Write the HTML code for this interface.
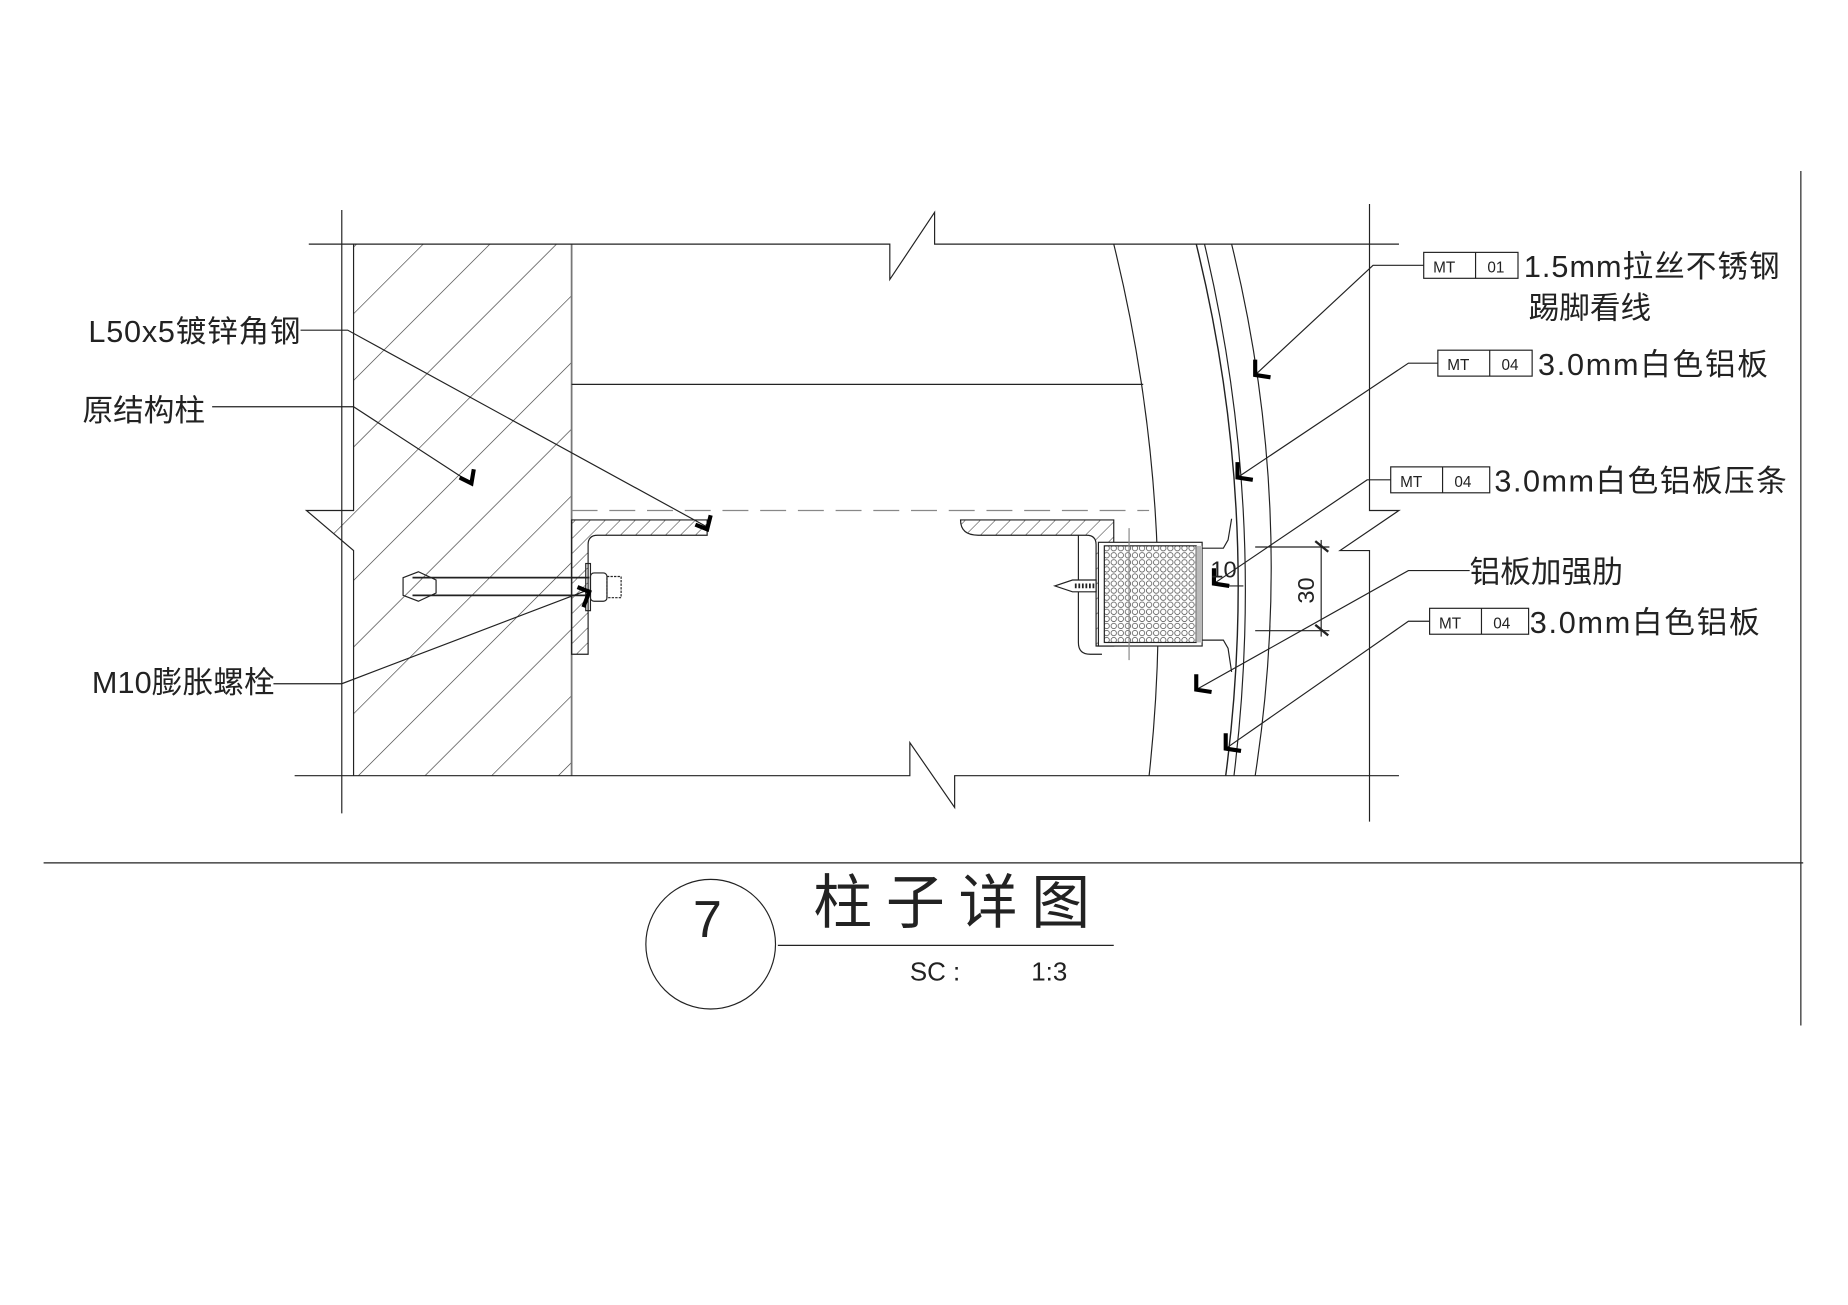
<!DOCTYPE html>
<html><head><meta charset="utf-8"><style>
html,body{margin:0;padding:0;background:#fff;}
svg{display:block}
text{font-family:"Liberation Sans","Noto Sans CJK SC",sans-serif;fill:#222}
</style></head><body>
<svg width="1848" height="1305" viewBox="0 0 1568 1107" xmlns="http://www.w3.org/2000/svg">
<defs>
<pattern id="hat" width="40" height="40" patternUnits="userSpaceOnUse" patternTransform="rotate(-45)">
<line x1="0" y1="0" x2="40" y2="0" stroke="#333" stroke-width="1"/></pattern>
<pattern id="hat2" width="9" height="9" patternUnits="userSpaceOnUse" patternTransform="rotate(-45)">
<line x1="0" y1="0" x2="9" y2="0" stroke="#333" stroke-width="0.8"/></pattern>
<pattern id="hex" width="6" height="6" patternUnits="userSpaceOnUse">
<circle cx="3" cy="3" r="2.3" fill="none" stroke="#444" stroke-width="0.6"/></pattern>
</defs>
<g fill="none" stroke="#222" stroke-width="1">
<polygon points="300,207 485,207 485,658 300,658 300,467 260,433 300,433" fill="url(#hat)" stroke="none"/>
<polyline points="300,207 300,433 260,433 300,467 300,658"/>
<line x1="290" y1="178" x2="290" y2="690"/>
<line x1="485" y1="207" x2="485" y2="658" stroke="#777" stroke-width="1.5"/>
<polyline points="262,207 755,207 755,237 793,180 793,207 1187,207"/>
<polyline points="250,658 772,658 772,630 810,685 810,658 1187,658"/>
<line x1="485" y1="326" x2="970" y2="326"/>
<line x1="485" y1="433" x2="975" y2="433" stroke="#888" stroke-dasharray="22,10"/>
<polyline points="1162,173 1162,433 1187,433 1137,467 1162,467 1162,697"/>
<line x1="1528" y1="145" x2="1528" y2="870"/>
<line x1="37" y1="732" x2="1530" y2="732"/>
<path d="M945,207 Q1000,430 975,658"/>
<path d="M1015,207 Q1070,430 1040,658" stroke-width="1.2"/>
<path d="M1022,207 Q1075,430 1047,658" stroke-width="1"/>
<path d="M1045,207 Q1100,430 1065,658"/>
<path d="M485,441 L600,441 L600,454 L507,454 Q499,454 499,462 L499,555 L485,555 Z" fill="url(#hat2)"/>
<path d="M815,441 L945,441 L945,548 L930,548 L930,462 Q930,454 922,454 L830,454 Q815,454 815,441 Z" fill="url(#hat2)"/>
<path d="M915,454 L915,545 Q915,555 925,555 L935,555" />
<rect x="932" y="460" width="88" height="88" fill="#fff"/>
<rect x="937" y="463" width="78" height="82" fill="url(#hex)"/>
<rect x="1015" y="463" width="5" height="82" fill="#bbb" stroke="none"/>
<polyline points="1020,465 1038,465 1042,458 1045,440"/>
<polyline points="1020,543 1038,543 1042,550 1045,570"/>
<line x1="958" y1="448" x2="958" y2="560" stroke="#888"/>
<polygon points="895,497 910,492 930,492 930,502 910,502" fill="#fff"/>
<line x1="912" y1="497" x2="930" y2="497" stroke-width="4" stroke-dasharray="1.5,1.5"/>
<line x1="350" y1="490" x2="500" y2="490" stroke-width="1.5"/>
<line x1="350" y1="505" x2="500" y2="505" stroke-width="1.5"/>
<polygon points="342,490 355,485 370,492 370,503 355,510 342,505"/>
<rect x="497" y="478" width="4" height="40"/>
<rect x="501" y="486" width="14" height="24" rx="3"/>
<rect x="515" y="489" width="12" height="18" stroke-dasharray="2,1"/>
<line x1="1065" y1="464" x2="1128" y2="464"/>
<line x1="1065" y1="535" x2="1128" y2="535"/>
<line x1="1121" y1="458" x2="1121" y2="540"/>
<line x1="1116" y1="459" x2="1127" y2="468" stroke-width="2"/>
<line x1="1116" y1="530" x2="1127" y2="539" stroke-width="2"/>
<line x1="1038" y1="497" x2="1055" y2="497"/>
<polyline points="1208,225 1165,225 1065,318"/>
<polyline points="1220,308 1195,308 1050,405"/>
<polyline points="1180,407 1160,407 1030,495"/>
<polyline points="1247,484 1195,484 1015,585"/>
<polyline points="1213,527 1195,527 1040,635"/>
<polyline points="255,280 295,280 600,447"/>
<polyline points="180,345 300,345 400,410"/>
<polyline points="232,580 290,580 500,500"/>
<rect x="1208" y="214" width="80" height="22"/><line x1="1252" y1="214" x2="1252" y2="236"/>
<rect x="1220" y="297" width="80" height="22"/><line x1="1264" y1="297" x2="1264" y2="319"/>
<rect x="1180" y="396" width="84" height="22"/><line x1="1224" y1="396" x2="1224" y2="418"/>
<rect x="1213" y="516" width="84" height="22"/><line x1="1257" y1="516" x2="1257" y2="538"/>
<circle cx="603" cy="801" r="55"/>
<line x1="660" y1="802" x2="945" y2="802"/>
</g>
<g fill="none" stroke="#000" stroke-width="3.5">
<polyline points="1065,305 1065,318 1078,320"/>
<polyline points="1050,392 1050,405 1063,407"/>
<polyline points="1030,482 1030,495 1043,497"/>
<polyline points="1015,572 1015,585 1028,587"/>
<polyline points="1040,622 1040,635 1053,637"/>
<polyline points="590,445 600,449 603,437"/>
<polyline points="390,405 400,410 402,398"/>
<polyline points="490,498 500,502 495,515"/>
</g>
<g font-size="13" font-family="Liberation Serif">
<text x="1216" y="231">MT</text><text x="1262" y="231">01</text>
<text x="1228" y="314">MT</text><text x="1274" y="314">04</text>
<text x="1188" y="413">MT</text><text x="1234" y="413">04</text>
<text x="1221" y="533">MT</text><text x="1267" y="533">04</text>
</g>
<g font-size="26">
<text x="1293" y="235" textLength="217">1.5mm拉丝不锈钢</text>
<text x="1297" y="270">踢脚看线</text>
<text x="1305" y="318" textLength="195">3.0mm白色铝板</text>
<text x="1268" y="417" textLength="248">3.0mm白色铝板压条</text>
<text x="1247" y="494">铝板加强肋</text>
<text x="1298" y="537" textLength="195">3.0mm白色铝板</text>
<text x="75" y="290" textLength="180">L50x5镀锌角钢</text>
<text x="70" y="357">原结构柱</text>
<text x="78" y="588" textLength="155">M10膨胀螺栓</text>
</g>
<text x="1027" y="490" font-size="20">10</text>
<text x="1115" y="512" font-size="20" transform="rotate(-90 1115 512)">30</text>
<text x="588" y="795" font-size="44" style="font-weight:100">7</text>
<text x="690" y="783" font-size="50" font-family="Liberation Serif,Noto Serif CJK SC,serif" textLength="235">柱子详图</text>
<text x="772" y="832" font-size="22">SC :</text>
<text x="875" y="832" font-size="22">1:3</text>
</svg>
</body></html>
